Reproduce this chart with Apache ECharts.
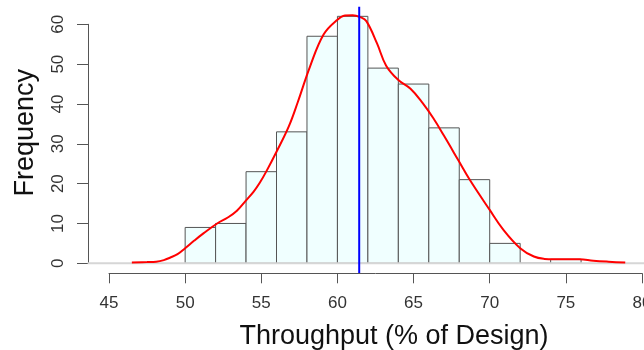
<!DOCTYPE html>
<html>
<head>
<meta charset="utf-8">
<title>Throughput histogram</title>
<script src="https://cdn.jsdelivr.net/npm/echarts@6/dist/echarts.min.js"></script>
<style>
  html, body { margin: 0; padding: 0; background: #fff; }
  #chart { width: 644px; height: 350px; }
</style>
</head>
<body>
<div id="chart"></div>
<script>
// histogram bins (2% wide) and counts
const binStarts = [50, 52, 54, 56, 58, 60, 62, 64, 66, 68, 70, 72, 74];
const binWidth = 2;
const counts = [9, 10, 23, 33, 57, 62, 49, 45, 34, 21, 5, 0, 1];

// density curve scaled to frequency
const densityX = [46.5, 47.5, 48.1, 48.6, 49.0, 49.5, 50.0, 50.6, 51.2, 52.1, 52.8, 53.4, 54.0, 54.5, 54.9,
  55.35, 56.0, 56.8, 57.4, 58.2, 59.1, 59.95, 60.5, 61.0, 61.5, 61.9, 62.6, 63.2, 64.0, 64.8, 65.6,
  66.3, 67.0, 67.95, 68.7, 70.0, 70.9, 72.0, 72.9, 73.6, 74.2, 75.0, 75.9, 76.8, 77.8, 78.9];
const densityY = [0.2, 0.3, 0.4, 0.8, 1.4, 2.3, 3.8, 5.7, 7.5, 10.0, 11.5, 13.2, 15.8, 18.0, 20.2,
  23.2, 28.0, 34.3, 40.5, 49.4, 57.5, 61.0, 62.2, 62.3, 61.8, 60.8, 55.2, 49.6, 46.0, 43.8, 40.2,
  36.4, 32.0, 25.8, 20.9, 13.4, 8.4, 3.8, 1.7, 1.1, 1.0, 1.0, 1.0, 0.65, 0.4, 0.2];

// mean line and plot region limits
const meanValue = 61.43;
const regionY = [-2.43, 64.4];
const regionX = [43.6, 84];

const xTicks = { min: 45, max: 80, step: 5 };
const yTicks = { min: 0, max: 60, step: 10 };

const FONT = "'Liberation Sans', Arial, sans-serif";

const chart = echarts.init(document.getElementById("chart"));

const histData = binStarts.map((s, i) => [s, s + binWidth, counts[i]]);
const densityData = densityX.map((x, i) => [x, densityY[i]]);

const option = {
  animation: false,
  grid: { left: 109, right: 2, top: 24.3, bottom: 86.7, outerBoundsMode: "none", containLabel: false },
  xAxis: {
    type: "value",
    min: xTicks.min,
    max: xTicks.max,
    interval: xTicks.step,
    offset: 10,
    name: "Throughput (% of Design)",
    nameLocation: "middle",
    nameGap: 50,
    nameTextStyle: { fontFamily: FONT, fontSize: 27, color: "#111", padding: [0, 0, 0, 37] },
    axisLine: { show: true, onZero: false, lineStyle: { color: "#555", width: 1 } },
    axisTick: { show: true, length: 10, lineStyle: { color: "#555" } },
    axisLabel: { fontFamily: FONT, fontSize: 17, color: "#333", margin: 22, showMaxLabel: true, showMinLabel: true },
    splitLine: { show: false }
  },
  yAxis: {
    type: "value",
    min: yTicks.min,
    max: yTicks.max,
    interval: yTicks.step,
    offset: 21,
    name: "Frequency",
    nameLocation: "middle",
    nameGap: 49,
    nameRotate: 90,
    nameTextStyle: { fontFamily: FONT, fontSize: 27, color: "#111", padding: [0, 0, 0, 22] },
    axisLine: { show: true, onZero: false, lineStyle: { color: "#555", width: 1 } },
    axisTick: { show: true, length: 11, lineStyle: { color: "#555" } },
    axisLabel: { fontFamily: FONT, fontSize: 17, color: "#333", margin: 21, rotate: 90 },
    splitLine: { show: false }
  },
  series: [
    {
      name: "histogram",
      type: "custom",
      clip: false,
      z: 2,
      data: histData,
      renderItem: function (params, api) {
        const p0 = api.coord([api.value(0), api.value(2)]);
        const p1 = api.coord([api.value(1), 0]);
        return {
          type: "rect",
          shape: { x: p0[0], y: p0[1], width: p1[0] - p0[0], height: p1[1] - p0[1] },
          style: { fill: "#F0FFFF", stroke: "#555", lineWidth: 1 }
        };
      }
    },
    {
      name: "baseline",
      type: "custom",
      clip: false,
      z: 3,
      data: [[regionX[0], regionX[1]]],
      renderItem: function (params, api) {
        const a = api.coord([api.value(0), 0]);
        const b = api.coord([api.value(1), 0]);
        return {
          type: "line",
          shape: { x1: a[0], y1: a[1], x2: b[0], y2: b[1] },
          style: { stroke: "#d6d6d6", lineWidth: 2 }
        };
      }
    },
    {
      name: "density",
      type: "line",
      clip: false,
      z: 4,
      smooth: 0.4,
      showSymbol: false,
      data: densityData,
      lineStyle: { color: "#ff0000", width: 2 }
    },
    {
      name: "mean",
      type: "custom",
      clip: false,
      z: 5,
      data: [[meanValue]],
      renderItem: function (params, api) {
        const a = api.coord([api.value(0), regionY[0]]);
        const b = api.coord([api.value(0), regionY[1]]);
        return {
          type: "line",
          shape: { x1: a[0], y1: a[1], x2: b[0], y2: b[1] },
          style: { stroke: "#0000ff", lineWidth: 2 }
        };
      }
    }
  ]
};

chart.setOption(option);
</script>
</body>
</html>
